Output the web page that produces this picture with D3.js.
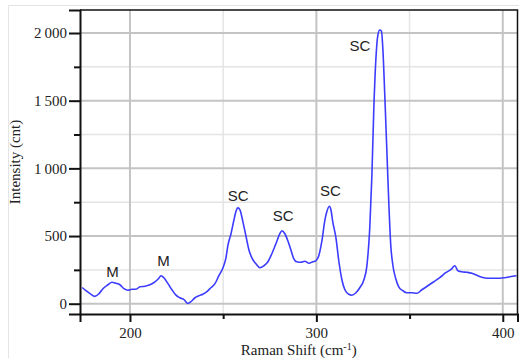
<!DOCTYPE html>
<html>
<head>
<meta charset="utf-8">
<script src="https://cdn.jsdelivr.net/npm/d3@7"></script>
<style>
  html, body { margin: 0; padding: 0; background: #fff; }
  svg { display: block; }
</style>
</head>
<body>
<div id="vis"></div>
<script>

// Raman shift (cm-1)
const shift = [
  174.4, 176.4, 178.6, 181.2, 183.4, 185.5, 188.2, 190.3, 192.5, 194.6,
  196.8, 198.9, 201.1, 203.2, 205.4, 208.0, 210.7, 213.4, 215.5, 216.6,
  218.2, 220.4, 222.5, 224.7, 226.8, 229.0, 231.1, 232.7, 234.9, 237.0,
  239.1, 241.3, 243.4, 245.6, 247.7, 249.9, 251.5, 252.5, 254.2, 255.8,
  256.8, 257.9, 259.0, 260.6, 262.2, 263.8, 265.4, 267.6, 269.7, 271.8,
  274.0, 276.1, 278.3, 280.4, 281.5, 283.1, 284.7, 286.3, 287.9, 289.5,
  291.7, 293.8, 296.0, 298.1, 299.7, 301.3, 302.9, 304.6, 305.6, 307.0,
  307.8, 308.8, 310.5, 312.1, 313.7, 315.3, 317.4, 319.0, 321.2, 323.3,
  325.5, 327.1, 328.7, 329.8, 330.8, 331.9, 333.0, 334.0, 334.9, 335.7,
  336.7, 337.8, 338.9, 339.9, 341.0, 342.6, 344.2, 346.4, 348.5, 351.2,
  353.9, 356.6, 359.8, 363.0, 366.2, 369.4, 372.1, 374.3, 375.9, 378.0,
  380.7, 383.4, 386.1, 388.7, 392.0, 395.2, 398.4, 401.1, 403.8, 407.4
];

// intensity (cnt)
const intensity = [
  120, 96, 74, 54, 74, 111, 140, 159, 151, 140,
  111, 100, 107, 107, 125, 129, 140, 162, 188, 207,
  192, 148, 103, 63, 44, 30, 2, 15, 44, 59,
  70, 89, 118, 148, 207, 266, 339, 428, 517, 620,
  679, 708, 694, 605, 502, 399, 339, 295, 266, 280,
  310, 369, 443, 517, 539, 517, 465, 399, 332, 310,
  306, 314, 299, 310, 317, 354, 458, 620, 679, 720,
  694, 605, 487, 310, 177, 103, 70, 63, 81, 118,
  177, 280, 576, 952, 1432, 1801, 1985, 2022, 2015, 1875,
  1542, 1137, 731, 435, 288, 185, 125, 96, 81, 81,
  77, 103, 133, 162, 192, 229, 251, 280, 244, 236,
  232, 225, 210, 196, 188, 188, 188, 192, 199, 207
];

// peak labels
const peakLabels = ["M", "M", "SC", "SC", "SC", "SC"];
const peakX = [190.6, 218.0, 258.1, 282.2, 307.6, 323.3];
const peakY = [199, 280, 760, 609, 797, 1867];

const xMajor = [200, 300, 400];
const xMinor = [250, 350];
const yMajor = [0, 500, 1000, 1500, 2000];
const yMinor = [250, 750, 1250, 1750];

////////////////////////////////////////
////////////// Setup ///////////////////
////////////////////////////////////////

const W = 519, H = 358;
const margin = { top: 10, right: 1.5, bottom: 44, left: 80 };
const width = W - margin.left - margin.right;
const height = H - margin.top - margin.bottom;

const data = shift.map((s, i) => ({ x: s, y: intensity[i] }));

const svg = d3.select("#vis").append("svg")
  .attr("width", W)
  .attr("height", H);

// faint outer frame
svg.append("rect")
  .attr("x", 8.5).attr("y", 5.5)
  .attr("width", W + 10).attr("height", H + 10)
  .attr("fill", "none")
  .attr("stroke", "#e4e4e4");

const g = svg.append("g")
  .attr("transform", `translate(${margin.left},${margin.top})`);

const x = d3.scaleLinear().domain([173.2, 407.9]).range([0, width]);
const y = d3.scaleLinear().domain([-76, 2170]).range([height, 0]);

////////////////////////////////////////
////////////// Grid ////////////////////
////////////////////////////////////////

g.selectAll(".gx-minor").data(xMinor).join("line")
  .attr("x1", d => x(d)).attr("x2", d => x(d))
  .attr("y1", 0).attr("y2", height)
  .attr("stroke", "#e4e4e4").attr("stroke-width", 1.5);

g.selectAll(".gy-minor").data(yMinor).join("line")
  .attr("x1", 0).attr("x2", width)
  .attr("y1", d => y(d)).attr("y2", d => y(d))
  .attr("stroke", "#e4e4e4").attr("stroke-width", 1.5);

g.selectAll(".gx-major").data(xMajor).join("line")
  .attr("x1", d => x(d)).attr("x2", d => x(d))
  .attr("y1", 0).attr("y2", height)
  .attr("stroke", "#c4c4c4").attr("stroke-width", 2);

g.selectAll(".gy-major").data(yMajor).join("line")
  .attr("x1", 0).attr("x2", width)
  .attr("y1", d => y(d)).attr("y2", d => y(d))
  .attr("stroke", "#c4c4c4").attr("stroke-width", 2);

////////////////////////////////////////
////////////// Line ////////////////////
////////////////////////////////////////

const line = d3.line()
  .x(d => x(d.x))
  .y(d => y(d.y))
  .curve(d3.curveMonotoneX);

g.append("path")
  .datum(data)
  .attr("fill", "none")
  .attr("stroke", "#3c3cff")
  .attr("stroke-width", 1.6)
  .attr("stroke-linejoin", "round")
  .attr("d", line);

// frame top / right
g.append("path")
  .attr("d", `M0,0H${width}V${height}`)
  .attr("fill", "none")
  .attr("stroke", "#111")
  .attr("stroke-width", 1.5);

////////////////////////////////////////
////////////// Axes ////////////////////
////////////////////////////////////////

const locale = d3.formatLocale({ decimal: ".", thousands: "\u2009", grouping: [3], currency: ["", ""] });
const fmt = locale.format(",d");
const serif = "'Liberation Serif', 'Times New Roman', serif";

const xAxis = g.append("g")
  .attr("transform", `translate(0,${height})`)
  .call(d3.axisBottom(x).tickValues(xMajor).tickSize(8).tickPadding(5).tickFormat(d3.format("d")));
g.append("g")
  .attr("transform", `translate(0,${height})`)
  .call(d3.axisBottom(x).tickValues(xMinor).tickSize(5).tickFormat(""))
  .call(a => a.select(".domain").remove());

const yAxis = g.append("g")
  .call(d3.axisLeft(y).tickValues(yMajor).tickSize(11).tickPadding(2).tickFormat(fmt));
g.append("g")
  .call(d3.axisLeft(y).tickValues(yMinor).tickSize(6).tickFormat(""))
  .call(a => a.select(".domain").remove());

g.selectAll(".tick line").attr("stroke", "#111").attr("stroke-width", 2);
g.selectAll(".domain").attr("stroke", "#111").attr("stroke-width", 2);
g.selectAll(".tick text")
  .attr("fill", "#222")
  .style("font-family", serif)
  .style("font-size", "15px");

// axis titles
const xt = svg.append("text")
  .attr("x", margin.left + width / 2)
  .attr("y", 355)
  .attr("text-anchor", "middle")
  .attr("fill", "#222")
  .style("font-family", serif)
  .style("font-size", "15px")
  .text("Raman Shift (cm");
xt.append("tspan").attr("dy", -5).style("font-size", "10px").text("-1");
xt.append("tspan").attr("dy", 5).text(")");

svg.append("text")
  .attr("transform", `translate(20,${margin.top + height / 2}) rotate(-90)`)
  .attr("text-anchor", "middle")
  .attr("fill", "#222")
  .style("font-family", serif)
  .style("font-size", "15px")
  .text("Intensity (cnt)");

////////////////////////////////////////
////////////// Labels //////////////////
////////////////////////////////////////

g.selectAll(".peak").data(peakLabels).join("text")
  .attr("x", (d, i) => x(peakX[i]))
  .attr("y", (d, i) => y(peakY[i]))
  .attr("text-anchor", "middle")
  .attr("fill", "#222")
  .style("font-family", "'Liberation Sans', Arial, sans-serif")
  .style("font-size", "15px")
  .text(d => d);

</script>
</body>
</html>
